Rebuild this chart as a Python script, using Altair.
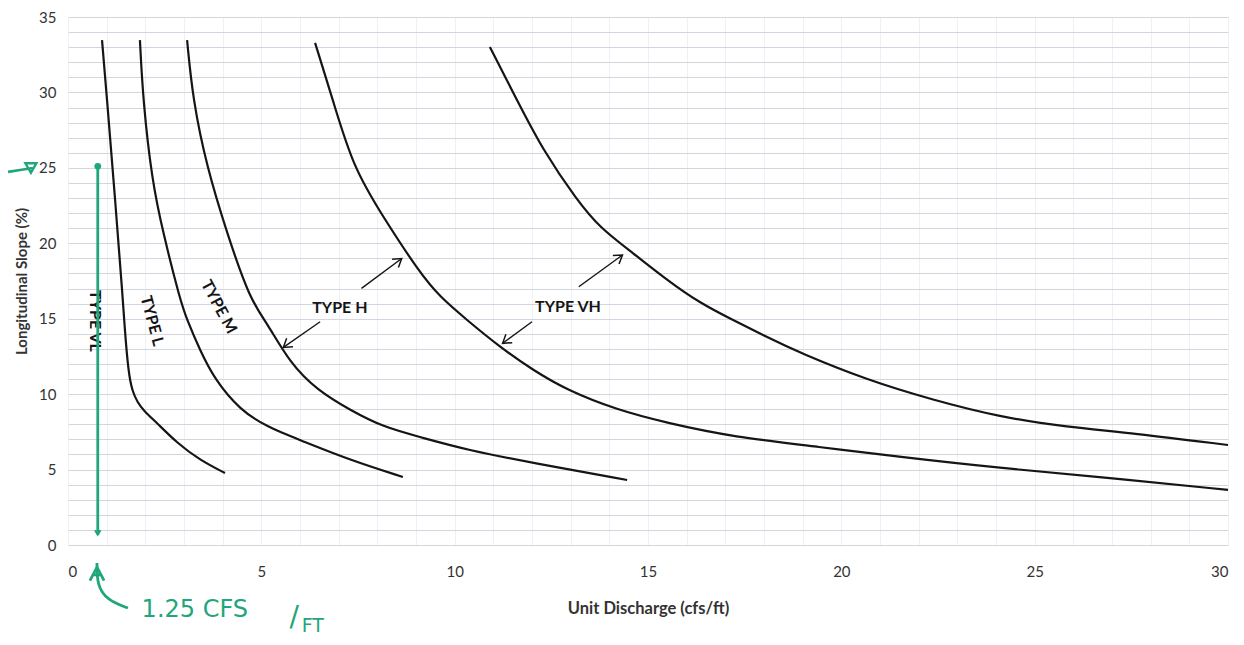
import altair as alt
import pandas as pd

# ---- boundary curves (x = unit discharge, y = slope %) ----
c1_x = [0.88, 1.01, 1.22, 1.42, 1.47, 1.56, 1.66, 1.80, 1.96, 2.30, 2.82, 3.41, 4.06]
c1_y = [33.47, 29.50, 22.87, 16.24, 14.25, 11.50, 10.20, 9.45, 8.90, 8.09, 6.76, 5.63, 4.77]

c2_x = [1.86, 1.94, 2.17, 2.46, 2.90, 3.08, 3.41, 3.80, 4.45, 5.15, 6.00, 7.29, 8.66]
c2_y = [33.47, 29.50, 24.19, 20.68, 16.24, 14.91, 12.93, 10.94, 8.95, 7.82, 6.96, 5.63, 4.51]

c3_x = [3.08, 3.23, 3.59, 4.11, 4.71, 5.15, 5.74, 6.44, 7.29, 8.15, 9.10, 10.32, 12.02, 14.46]
c3_y = [33.47, 29.50, 25.06, 20.68, 16.24, 14.71, 12.06, 10.27, 8.95, 7.82, 7.16, 6.30, 5.44, 4.31]

c4_x = [6.39, 6.85, 7.37, 8.15, 9.10, 9.62, 10.32, 11.17, 12.02, 12.90, 14.20, 15.49, 17.20,
        19.45, 21.52, 24.10, 26.69, 30.0]
c4_y = [33.28, 29.50, 25.06, 21.74, 18.03, 16.44, 14.91, 13.12, 11.60, 10.27, 8.95, 8.09, 7.16,
        6.50, 5.83, 5.10, 4.51, 3.65]

c5_x = [10.91, 11.61, 12.28, 13.16, 13.76, 14.61, 15.49, 16.34, 17.20, 18.07, 18.93, 20.66,
        22.37, 24.10, 25.83, 27.54, 30.0]
c5_y = [33.01, 29.50, 26.18, 22.87, 21.01, 19.36, 17.57, 16.04, 14.91, 13.79, 12.73, 10.94,
        9.61, 8.48, 7.82, 7.42, 6.63]

curve_names = ["VL / L", "L / M", "M / H", "H / VH", "VH"]

# ---- type labels ----
label_text = ["TYPE VL", "TYPE L", "TYPE M", "TYPE H", "TYPE VH"]
label_x = [0.70, 2.17, 3.90, 7.03, 12.93]
label_y = [14.85, 14.85, 15.78, 15.71, 15.78]
label_angle = [90, 75, 62, 0, 0]

# ---- pointer arrows (start -> head) ----
arrow_x0 = [7.59, 6.52, 13.21, 12.00]
arrow_y0 = [17.01, 14.80, 17.12, 14.80]
arrow_x1 = [8.63, 5.57, 14.34, 11.24]
arrow_y1 = [18.99, 13.10, 19.22, 13.37]
arrow_angle = [323, 143, 324, 143]

# ---- green hand-drawn markup ----
mark_q = 0.77
mark_top = 25.1
mark_bottom = 0.7
left_arrow_x = [-1.55, -1.24, -0.91]
left_arrow_y = [24.73, 24.86, 24.99]
up_arrow_x = [0.75, 0.75, 1.01, 1.55]
up_arrow_y = [-1.19, -2.65, -3.65, -4.18]
note_text = ["1.25 CFS", "/", "FT"]
note_x = [3.28, 5.85, 6.33]
note_y = [-4.31, -4.85, -5.35]
note_size = [24, 28, 19]

FONT = "Lato"
GREEN = "#1fa67a"
INK = "#151515"

xs = alt.Scale(domain=[0, 30], nice=False, zero=False)
ys = alt.Scale(domain=[0, 35], nice=False, zero=False)

x_axis = alt.Axis(
    values=list(range(0, 31)),
    labelExpr="datum.value % 5 === 0 ? datum.label : ''",
    grid=True, gridColor="#eef0f3", gridWidth=1,
    domain=False, ticks=False,
    labelPadding=19, labelFontSize=15, labelFont=FONT, labelColor="#333",
    title="Unit Discharge (cfs/ft)", titleFont=FONT, titleFontSize=16.5,
    titleFontWeight="bold", titleColor="#333", titlePadding=21,
)
y_axis = alt.Axis(
    values=list(range(0, 36)),
    labelExpr="datum.value % 5 === 0 ? datum.label : ''",
    grid=True, gridColor="#d3d6de", gridWidth=1,
    domain=False, ticks=False,
    labelPadding=12, labelFontSize=15, labelFont=FONT, labelColor="#333",
    title="Longitudinal Slope (%)", titleFont=FONT, titleFontSize=15,
    titleFontWeight="bold", titleColor="#333", titlePadding=9,
)


def X(field="x"):
    return alt.X(f"{field}:Q", scale=xs, axis=x_axis)


def Y(field="y"):
    return alt.Y(f"{field}:Q", scale=ys, axis=y_axis)


rows = []
for name, cx, cy in zip(curve_names, [c1_x, c2_x, c3_x, c4_x, c5_x],
                        [c1_y, c2_y, c3_y, c4_y, c5_y]):
    for i, (a, b) in enumerate(zip(cx, cy)):
        rows.append({"curve": name, "i": i, "x": a, "y": b})
curves_df = pd.DataFrame(rows)

curves = alt.Chart(curves_df).mark_line(
    color=INK, strokeWidth=2.2, interpolate="basis"
).encode(x=X(), y=Y(), detail="curve:N", order="i:Q")

labels_df = pd.DataFrame({"t": label_text, "x": label_x, "y": label_y, "a": label_angle})
labels = alt.Chart(labels_df).mark_text(
    font=FONT, fontSize=16, fontWeight="bold", color=INK, align="center", baseline="middle"
).encode(x=X(), y=Y(), text="t:N", angle=alt.Angle("a:Q", scale=None))

arr_rows = []
for k in range(len(arrow_x0)):
    arr_rows.append({"k": k, "i": 0, "x": arrow_x0[k], "y": arrow_y0[k]})
    arr_rows.append({"k": k, "i": 1, "x": arrow_x1[k], "y": arrow_y1[k]})
arr_df = pd.DataFrame(arr_rows)
shafts = alt.Chart(arr_df).mark_line(color=INK, strokeWidth=1.4).encode(
    x=X(), y=Y(), detail="k:N", order="i:Q"
)
heads_df = pd.DataFrame({"x": arrow_x1, "y": arrow_y1, "a": arrow_angle})
V_SHAPE = "M -1 -0.65 L 0 0 L -1 0.65"
heads = alt.Chart(heads_df).mark_point(
    shape=V_SHAPE, filled=False, color=INK, strokeWidth=1.5, size=260, opacity=1
).encode(x=X(), y=Y(), angle=alt.Angle("a:Q", scale=None))

# green markup
gline_df = pd.DataFrame({"x": [mark_q, mark_q], "y": [mark_top, mark_bottom], "i": [0, 1]})
gline = alt.Chart(gline_df).mark_line(color=GREEN, strokeWidth=2.8).encode(
    x=X(), y=Y(), order="i:Q"
)
gdot = alt.Chart(pd.DataFrame({"x": [mark_q], "y": [mark_top]})).mark_point(
    shape="circle", filled=True, color=GREEN, size=45, opacity=1
).encode(x=X(), y=Y())
gdown = alt.Chart(pd.DataFrame({"x": [mark_q], "y": [mark_bottom], "a": [90]})).mark_point(
    shape=V_SHAPE, filled=False, color=GREEN, strokeWidth=2.2, size=70, opacity=1
).encode(x=X(), y=Y(), angle=alt.Angle("a:Q", scale=None))

gleft_df = pd.DataFrame({"x": left_arrow_x, "y": left_arrow_y, "i": range(len(left_arrow_x))})
gleft = alt.Chart(gleft_df).mark_line(color=GREEN, strokeWidth=2.6, interpolate="monotone").encode(
    x=X(), y=Y(), order="i:Q"
)
gleft_head = alt.Chart(pd.DataFrame({"x": [left_arrow_x[-1] - 0.05], "y": [left_arrow_y[-1]]})).mark_point(
    shape="triangle-down", filled=False, color=GREEN, strokeWidth=2.4, size=120, opacity=1
).encode(x=X(), y=Y())

gup_df = pd.DataFrame({"x": up_arrow_x, "y": up_arrow_y, "i": range(len(up_arrow_x))})
gup = alt.Chart(gup_df).mark_line(color=GREEN, strokeWidth=2.8, interpolate="basis").encode(
    x=X(), y=Y(), order="i:Q"
)
A_SHAPE = "M -1 0.9 L 0 -1 L 1 0.9 M -0.6 0.1 L 0.6 0.1"
gup_head = alt.Chart(pd.DataFrame({"x": [up_arrow_x[0]], "y": [up_arrow_y[0] - 0.75]})).mark_point(
    shape=A_SHAPE, filled=False, color=GREEN, strokeWidth=2.8, size=200, opacity=1
).encode(x=X(), y=Y())

note_df = pd.DataFrame({"t": note_text, "x": note_x, "y": note_y, "s": note_size})
notes = alt.Chart(note_df).mark_text(
    font="DejaVu Sans", color=GREEN, align="center", baseline="middle"
).encode(x=X(), y=Y(), text="t:N", size=alt.Size("s:Q", scale=None, legend=None))

chart = alt.layer(
    curves, shafts, heads, labels,
    gline, gdot, gdown, gleft, gleft_head, gup, gup_head, notes,
).properties(
    width=1160, height=528,
    autosize=alt.AutoSizeParams(type="none"),
    padding={"left": 60, "top": 9, "right": 8, "bottom": 92},
    background="white",
).configure_view(stroke=None)

chart.save("out.html", embed_options={"renderer": "svg", "actions": False})
